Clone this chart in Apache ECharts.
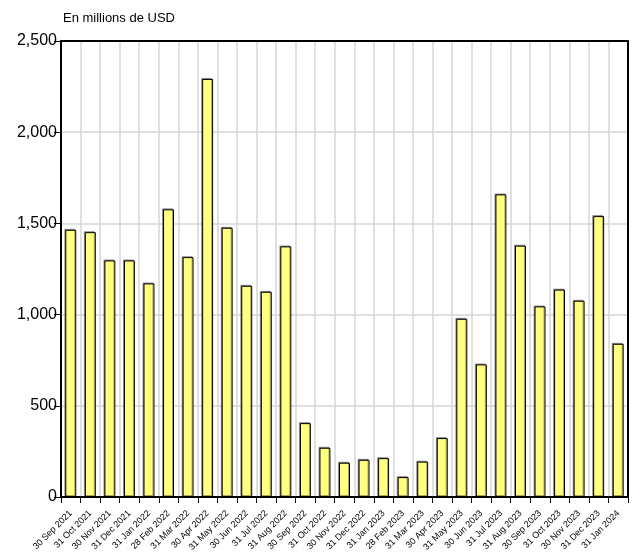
<!DOCTYPE html>
<html>
<head>
    <meta charset="utf-8">
    <title>En millions de USD</title>
    <script src="https://cdn.jsdelivr.net/npm/echarts@6/dist/echarts.min.js"></script>
    <style>
        html, body { margin: 0; padding: 0; background: #fff; }
        #main { width: 641px; height: 557px; }
    </style>
</head>
<body>
<div id="main"></div>
<script type="text/javascript">
    // 月末日期
    var months = ['30 Sep 2021', '31 Oct 2021', '30 Nov 2021', '31 Dec 2021', '31 Jan 2022', '28 Feb 2022',
        '31 Mar 2022', '30 Apr 2022', '31 May 2022', '30 Jun 2022', '31 Jul 2022', '31 Aug 2022',
        '30 Sep 2022', '31 Oct 2022', '30 Nov 2022', '31 Dec 2022', '31 Jan 2023', '28 Feb 2023',
        '31 Mar 2023', '30 Apr 2023', '31 May 2023', '30 Jun 2023', '31 Jul 2023', '31 Aug 2023',
        '30 Sep 2023', '31 Oct 2023', '30 Nov 2023', '31 Dec 2023', '31 Jan 2024'];

    // 数值（百万美元）
    var values = [1465, 1452, 1297, 1297, 1171, 1577,
        1315, 2292, 1476, 1158, 1125, 1374,
        405, 270, 188, 204, 213, 109,
        194, 323, 977, 727, 1659, 1378,
        1045, 1137, 1076, 1540, 840];

    var yTicks = [0, 500, 1000, 1500, 2000, 2500];

    var myChart = echarts.init(document.getElementById('main'));

    // 只画边框线的辅助坐标轴
    function frameAxis(type, position) {
        var axis = {
            type: type,
            position: position,
            z: 10,
            axisLine: {show: true, onZero: false, lineStyle: {color: '#000', width: 2}},
            axisTick: {show: false},
            axisLabel: {show: false},
            splitLine: {show: false}
        };
        if (type === 'category') {
            axis.data = months;
        } else {
            axis.min = yTicks[0];
            axis.max = yTicks[yTicks.length - 1];
            axis.interval = 500;
        }
        return axis;
    }

    var option = {
        animation: false,
        title: {
            text: 'En millions de USD',
            left: 58,
            top: 7,
            textStyle: {
                fontFamily: 'Liberation Sans',
                fontSize: 13,
                fontWeight: 'normal',
                color: '#000'
            }
        },
        grid: {
            left: 61,
            right: 13,
            top: 41,
            bottom: 60
        },
        xAxis: [
            {
                type: 'category',
                data: months,
                offset: 3,
                axisLine: {show: false},
                axisTick: {
                    show: true,
                    interval: 0,
                    length: 6,
                    lineStyle: {color: '#000', width: 1}
                },
                splitLine: {
                    show: true,
                    interval: 0,
                    lineStyle: {color: '#d6d6d6', width: 1.5}
                },
                axisLabel: {
                    interval: 0,
                    rotate: 45,
                    margin: 12,
                    fontFamily: 'Liberation Sans',
                    fontSize: 9,
                    color: '#000'
                }
            },
            frameAxis('category', 'bottom'),
            frameAxis('category', 'top')
        ],
        yAxis: [
            {
                type: 'value',
                min: yTicks[0],
                max: yTicks[yTicks.length - 1],
                interval: 500,
                axisLine: {show: true, lineStyle: {color: '#000', width: 1.5}},
                axisTick: {show: true, length: 7, lineStyle: {color: '#000'}},
                splitLine: {lineStyle: {color: '#d6d6d6', width: 1.5}},
                axisLabel: {
                    margin: 4,
                    fontFamily: 'Liberation Sans',
                    fontSize: 16,
                    color: '#000',
                    formatter: function (v) {
                        return v.toLocaleString('en-US');
                    }
                }
            },
            frameAxis('value', 'right'),
            frameAxis('value', 'left')
        ],
        series: [
            {
                type: 'bar',
                data: values,
                barWidth: '56%',
                itemStyle: {
                    color: '#ffff80',
                    borderColor: '#000',
                    borderWidth: 1,
                    shadowColor: 'rgba(0,0,0,0.35)',
                    shadowOffsetX: -1,
                    shadowOffsetY: -1
                }
            }
        ]
    };

    myChart.setOption(option);
</script>
</body>
</html>
